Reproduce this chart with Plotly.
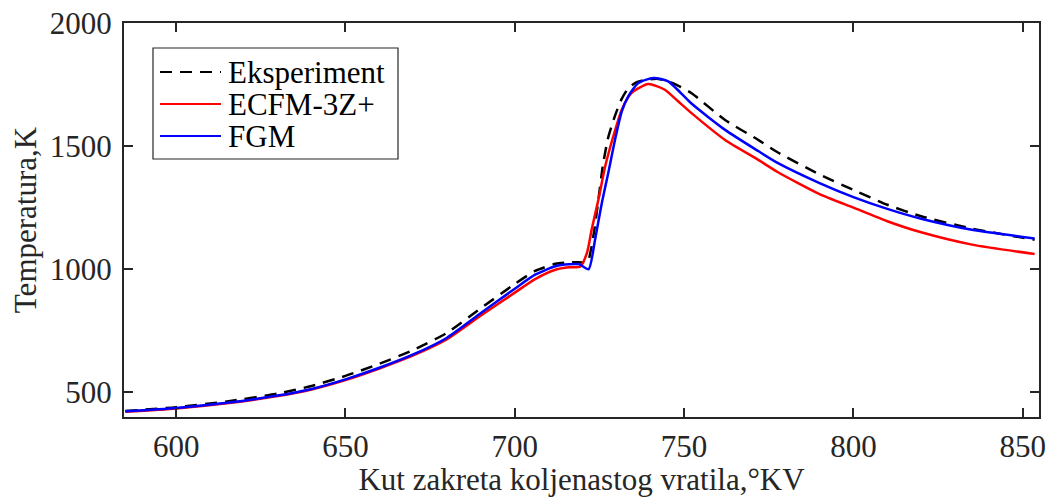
import plotly.graph_objects as go

# Crank angle (deg) and temperature (K)
exp_deg = [585, 600, 615, 630, 640, 650, 660, 670, 680, 690, 700, 706, 712, 716, 719, 721.5,
           722.5, 723.5, 724.7, 726, 727.5, 729.5, 731.5, 733.5, 736, 739, 742.4, 747.3,
           752.1, 762, 771.8, 777.6, 790, 800, 810, 820, 835, 853.5]
exp_T = [424, 440, 463, 495, 526, 567, 616, 672, 742, 842, 940, 993, 1022, 1028, 1028, 1030,
         1080, 1160, 1283, 1420, 1530, 1620, 1690, 1735, 1760, 1770, 1773, 1752,
         1716, 1607, 1526, 1475, 1385, 1322, 1262, 1215, 1165, 1120]

ecfm_deg = [585, 600, 615, 630, 640, 650, 660, 670, 680, 690, 700, 706, 712, 716, 719.3,
            721.3, 722.7, 724.7, 726.7, 729.1, 731.6, 734.5, 739.4, 744.3, 748.2, 752.1,
            762, 771.8, 777.6, 790, 800, 810, 820, 835, 853.5]
ecfm_T = [421, 435, 456, 485, 512, 550, 597, 650, 716, 812, 905, 960, 998, 1008, 1010,
          1066, 1161, 1283, 1418, 1540, 1648, 1716, 1752, 1729, 1682, 1635,
          1526, 1445, 1395, 1305, 1250, 1195, 1150, 1100, 1062]

fgm_deg = [585, 600, 615, 630, 640, 650, 660, 670, 680, 690, 700, 706, 712, 716, 719, 721.8,
           723.7, 725.7, 727.6, 729.6, 731.6, 733.5, 736.5, 740.9, 745.3, 748.2, 752,
           762, 772, 777.6, 790, 800, 810, 820, 835, 853.5]
fgm_T = [423, 437, 458, 487, 514, 553, 600, 654, 722, 822, 921, 978, 1012, 1020, 1020, 1000,
         1120, 1269, 1391, 1526, 1641, 1702, 1756, 1777, 1763, 1727, 1675,
         1567, 1479, 1432, 1350, 1293, 1245, 1205, 1160, 1125]

series_names = ["Eksperiment", "ECFM-3Z+", "FGM"]
x_ticks = [600, 650, 700, 750, 800, 850]
y_ticks = [500, 1000, 1500, 2000]

axis_col = "#262626"
font_family = "Liberation Serif, Times New Roman, serif"
W, H = 1046, 497
ML, MR, MT, MB = 124, 7, 23, 80
PW, PH = W - ML - MR, H - MT - MB

styles = [dict(color="black", width=2.5, dash="12px,8px"),
          dict(color="#ff0000", width=2.5),
          dict(color="#0000ff", width=2.5)]

fig = go.Figure()
for name, xs, ys, st in zip(series_names, [exp_deg, ecfm_deg, fgm_deg], [exp_T, ecfm_T, fgm_T], styles):
    fig.add_trace(go.Scatter(x=xs, y=ys, mode="lines", name=name, showlegend=False,
                             line=dict(shape="spline", smoothing=0.6, **st)))

axis_common = dict(showline=True, linecolor=axis_col, linewidth=2, mirror="ticks",
                   ticks="inside", ticklen=9, tickwidth=2, tickcolor=axis_col,
                   showgrid=False, zeroline=False, automargin=False,
                   tickfont=dict(family=font_family, size=31, color=axis_col),
                   title_font=dict(family=font_family, size=31, color=axis_col))

fig.update_xaxes(range=[584.6, 854.8], tickvals=x_ticks, ticktext=[str(v) for v in x_ticks],
                 title_text="Kut zakreta koljenastog vratila,°KV", title_standoff=16,
                 ticklabelstandoff=1, **axis_common)
fig.update_yaxes(range=[400, 2000], tickvals=y_ticks, ticktext=[str(v) for v in y_ticks],
                 title_text="Temperatura,K", title_standoff=4,
                 ticklabelstandoff=4, **axis_common)

# Legend box drawn in paper coordinates (pixel positions converted)
def px(x):
    return (x - ML) / PW

def py(y):
    return (H - MB - y) / PH

shapes = [dict(type="rect", xref="paper", yref="paper", x0=px(153), x1=px(398), y0=py(159), y1=py(48),
               line=dict(color=axis_col, width=1.2), fillcolor="white", layer="above")]
annotations = []
row_y = [72, 104, 136]
for name, st, yy in zip(series_names, styles, row_y):
    shapes.append(dict(type="line", xref="paper", yref="paper", x0=px(160), x1=px(221), y0=py(yy), y1=py(yy),
                       line=dict(color=st["color"], width=2, dash=st.get("dash", "solid")), layer="above"))
    annotations.append(dict(xref="paper", yref="paper", x=px(226), y=py(yy), text=name, showarrow=False,
                            xanchor="left", yanchor="middle",
                            font=dict(family=font_family, size=31, color="black")))

fig.update_layout(
    width=W, height=H,
    margin=dict(l=ML, r=MR, t=MT, b=MB),
    paper_bgcolor="white", plot_bgcolor="white",
    showlegend=False,
    shapes=shapes, annotations=annotations,
)

fig.write_html("out.html", config={"displayModeBar": False},
               post_script="document.body.style.margin='0px';document.body.style.overflow='hidden';")
